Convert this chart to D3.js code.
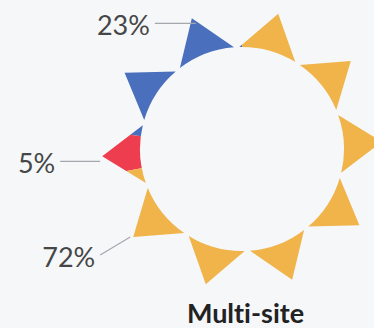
<!DOCTYPE html>
<html>
<head>
<meta charset="utf-8">
<script src="https://cdn.jsdelivr.net/npm/d3@7"></script>
<style>
  html, body { margin: 0; padding: 0; background: #f5f7f9; }
  svg { display: block; }
</style>
</head>
<body>
<svg id="chart" width="374" height="328"></svg>
<script>
// Share of respondents, drawn as a sun whose rays are coloured by pie slices
const categories = ["Group A", "Group B", "Group C"];
const values = [23, 5, 72];
const colors = ["#4a6fbd", "#ee3d4f", "#f0b44a"];
const title = "Multi-site";

const width = 374, height = 328;
const cx = 242, cy = 149;          // centre of the sun
const innerR = 102;                 // radius of the empty disc
const tipR = 140;                   // radius of the ray tips
const rayCount = 10;
const rayPhase = -21;               // degrees, centre of the first ray
const raySpan = 33;                 // degrees of circle covered by each ray
const rad = Math.PI / 180;

const svg = d3.select("#chart");
const g = svg.append("g").attr("transform", `translate(${cx},${cy})`);

const polar = (a, r) => [r * Math.sin(a), -r * Math.cos(a)];

// Ray outline: two straight sides meeting at the tip, closed along the disc
function rayPath(k) {
  const c = (rayPhase + 360 / rayCount * k) * rad;
  const h = raySpan / 2 * rad;
  const A = polar(c - h, innerR), B = polar(c + h, innerR);
  const T = polar(c, tipR);
  const p = d3.path();
  p.moveTo(A[0], A[1]);
  p.lineTo(T[0], T[1]);
  p.lineTo(B[0], B[1]);
  p.arc(0, 0, innerR, c + h - Math.PI / 2, c - h - Math.PI / 2, true);
  p.closePath();
  return p.toString();
}

const rays = d3.range(rayCount);
svg.append("defs").append("clipPath").attr("id", "rays")
  .selectAll("path").data(rays).join("path").attr("d", rayPath);

// Slices run counter-clockwise from twelve o'clock
const pie = d3.pie().sort(null).startAngle(0).endAngle(-2 * Math.PI);
const slices = pie(values);
const arc = d3.arc().innerRadius(0).outerRadius(tipR + 20);

g.append("g").attr("clip-path", "url(#rays)")
  .selectAll("path").data(slices).join("path")
  .attr("d", arc)
  .attr("fill", (d, i) => colors[i]);

// Each label is attached to the first ray tip lying inside its slice
const norm = a => { let x = a % (2 * Math.PI); if (x > 0) x -= 2 * Math.PI; return x; };
function labelRay(s) {
  let best = null, bestDist = Infinity;
  rays.forEach(k => {
    const a = norm((rayPhase + 360 / rayCount * k) * rad);
    if (a <= s.startAngle && a >= s.endAngle) {
      const dist = s.startAngle - a;
      if (dist < bestDist) { bestDist = dist; best = k; }
    }
  });
  return best;
}

const labelLayout = [
  { end: [4, 5],  vec: [-41, 0] },
  { end: [-2, 5], vec: [-40, 0] },
  { end: [-3, 0], vec: [-30, 18] }
];

slices.forEach((s, i) => {
  const k = labelRay(s);
  const tip = polar((rayPhase + 360 / rayCount * k) * rad, tipR);
  const lay = labelLayout[i];
  const x1 = tip[0] + lay.end[0], y1 = tip[1] + lay.end[1];
  const x0 = x1 + lay.vec[0], y0 = y1 + lay.vec[1];
  g.append("line")
    .attr("x1", x0).attr("y1", y0).attr("x2", x1).attr("y2", y1)
    .attr("stroke", "#a4a7ab").attr("stroke-width", 1.2);
  g.append("text")
    .attr("x", x0 - 5).attr("y", y0 + 12)
    .attr("text-anchor", "end")
    .attr("font-family", "Lato, 'Open Sans', sans-serif")
    .attr("font-size", 27)
    .attr("fill", "#464646")
    .text(values[i] + "%");
});

svg.append("text")
  .attr("x", cx + 3.5).attr("y", 323)
  .attr("text-anchor", "middle")
  .attr("font-family", "Lato, 'Open Sans', sans-serif")
  .attr("font-weight", 700)
  .attr("font-size", 27)
  .attr("fill", "#222")
  .style("font-variant-ligatures", "none")
  .text(title);
</script>
</body>
</html>
